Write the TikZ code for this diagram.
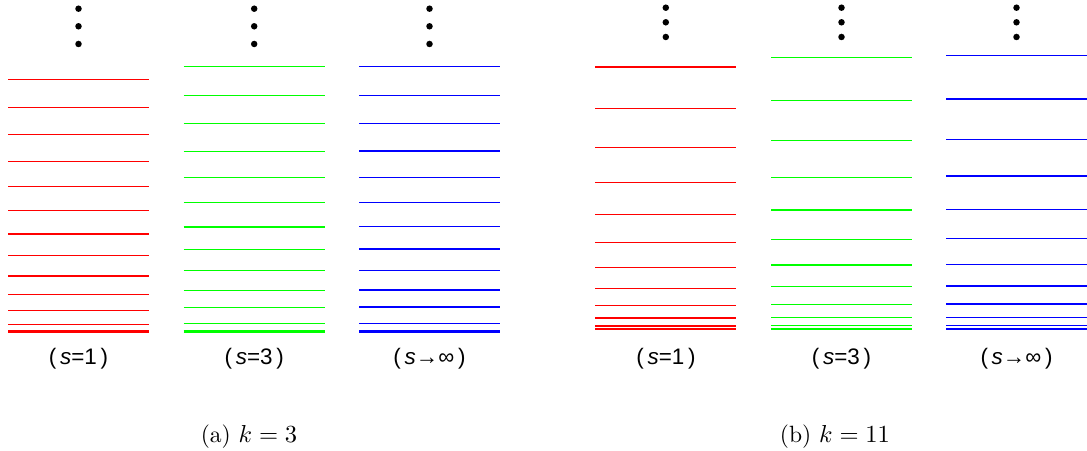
\documentclass[tikz,border=0pt]{standalone}
\usepackage{fontspec}
\newfontfamily\lblfont{Liberation Sans}
\usetikzlibrary{positioning}

\begin{document}
\begin{tikzpicture}[
    x=0.446pt, y=-0.446pt,
    level/.style = {line width=0.5pt},
    vdot/.style = {fill=black, circle, inner sep=0pt, minimum size=6.5*0.446pt},
    lbl/.style = {font=\lblfont\fontsize{10}{12}\selectfont, inner sep=1pt},
    subcap/.style = {font=\fontsize{10.5}{12}\selectfont, inner sep=1pt}
]
\useasboundingbox (0,0) rectangle (1087,451);

% energy levels, (a) k=3
\foreach \col/\x/\ys in {
    red/8/{79.3,107.3,134.7,161.3,186.7,210.7,234,255.7,276,294.3,310.3,324.3,331,332.3},
    green/183.7/{66.3,95.7,123.7,151.3,177.3,202.7,227,249.3,270.7,290.3,307.7,323.7,331,332.3},
    blue/359/{66.3,95.3,123.7,151,177.3,202.7,226.7,249,270.7,290,307,323.7,331,332.3}}
{
    \foreach \y in \ys
        \draw[level, \col] (\x,\y) -- ++(141,0);
    \foreach \d in {8.7,26.3,44}
        \node[vdot] at (\x+70.5,\d) {};
}

% energy levels, (b) k=11
\foreach \col/\x/\ys in {
    red/595.3/{67,108.7,147.3,182.7,214.3,242.7,267.3,288.3,305.3,318,326,328.3,329.6},
    green/771/{57.3,100.7,140.7,177.3,210,239.3,265,286.7,304.3,317.7,325.7,328.3,329.6},
    blue/946/{55.3,99,139.3,176,209.3,238.7,264.3,286,304,317.3,325.7,328.3,329.6}}
{
    \foreach \y in \ys
        \draw[level, \col] (\x,\y) -- ++(141,0);
    \foreach \d in {7.7,22.3,37}
        \node[vdot] at (\x+70.5,\d) {};
}

% labels
\node[lbl] (la1) at (78.5,359) {(\,\textit{s}=1\,)};
\node[lbl] (la2) at (254.2,359) {(\,\textit{s}=3\,)};
\node[lbl] (la3) at (429.5,359) {(\,\textit{s}→∞\,)};
\node[lbl] (lb1) at (666,359) {(\,\textit{s}=1\,)};
\node[lbl] (lb2) at (841.5,359) {(\,\textit{s}=3\,)};
\node[lbl] (lb3) at (1016.5,359) {(\,\textit{s}→∞\,)};

\node[subcap] (capa) at (249,437) {(a) $k=3$};
\node[subcap] (capb) at (835,437) {(b) $k=11$};

\end{tikzpicture}
\end{document}
